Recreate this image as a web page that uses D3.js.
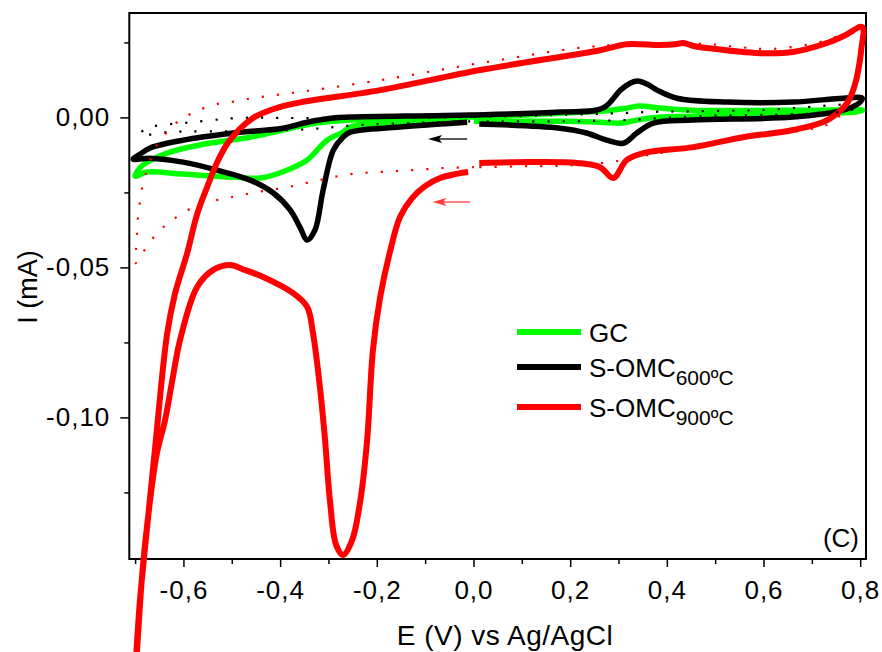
<!DOCTYPE html>
<html>
<head>
<meta charset="utf-8">
<script src="https://cdnjs.cloudflare.com/ajax/libs/d3/7.8.5/d3.min.js"></script>
<style>
body { margin: 0; background: #fff; }
text { font-family: "Liberation Sans", Arial, sans-serif; fill: #000; }
</style>
</head>
<body>
<div id="chart"></div>
<script>
// cyclic voltammograms, [E (V), I (mA)] in scan order, starting at 0 V going negative
const gcCurve = [
  [-0.015, -0.0011], [-0.152, -0.0016], [-0.228, -0.0024], [-0.255, -0.0032], [-0.27, -0.0049],
  [-0.303, -0.0076], [-0.344, -0.0142], [-0.386, -0.0176], [-0.441, -0.0202], [-0.497, -0.0199],
  [-0.601, -0.0189], [-0.675, -0.0182], [-0.7, -0.0196],
  [-0.694, -0.0176], [-0.684, -0.0159], [-0.634, -0.0119], [-0.566, -0.0092], [-0.462, -0.0066],
  [-0.394, -0.0042], [-0.324, -0.0019], [-0.255, -0.0009], [-0.007, 0.0001], [0.179, 0.0014],
  [0.268, 0.0021], [0.317, 0.0031], [0.344, 0.0038], [0.386, 0.0031], [0.455, 0.0024],
  [0.676, 0.0024], [0.805, 0.0024],
  [0.79, 0.0018], [0.676, 0.0014], [0.455, 0.0004], [0.386, 0.0001], [0.338, -0.0009],
  [0.304, -0.0019], [0.262, -0.0016], [0.179, -0.0013], [0.001, -0.0013]
];
const omc600Curve = [
  [-0.013, -0.0016], [-0.152, -0.0032], [-0.255, -0.0049], [-0.27, -0.0066], [-0.29, -0.0109],
  [-0.311, -0.0242], [-0.328, -0.0376], [-0.344, -0.0409], [-0.359, -0.0366], [-0.379, -0.0309],
  [-0.414, -0.0252], [-0.462, -0.0209], [-0.53, -0.0176], [-0.601, -0.0149], [-0.669, -0.0136],
  [-0.704, -0.0139],
  [-0.69, -0.0123], [-0.669, -0.0102], [-0.601, -0.0076], [-0.497, -0.0052], [-0.394, -0.0036],
  [-0.344, -0.0016], [-0.29, -0.0002], [-0.255, 0.0001], [-0.007, 0.0008], [0.179, 0.0018],
  [0.268, 0.0031], [0.304, 0.0091], [0.324, 0.0114], [0.34, 0.0121], [0.359, 0.0111],
  [0.38, 0.0091], [0.421, 0.0064], [0.525, 0.0051], [0.661, 0.0051], [0.765, 0.0064], [0.804, 0.0064],
  [0.8, 0.0051], [0.765, 0.0024], [0.661, 0.0001], [0.455, -0.0009], [0.372, -0.0019],
  [0.338, -0.0052], [0.31, -0.0086], [0.276, -0.0076], [0.234, -0.0052], [0.179, -0.0036],
  [0.012, -0.0022]
];
const omc900Curve = [
  [-0.011, -0.0182], [-0.038, -0.0189], [-0.069, -0.0202], [-0.1, -0.0229], [-0.127, -0.0269],
  [-0.152, -0.0332], [-0.172, -0.0443], [-0.193, -0.0599], [-0.208, -0.0776], [-0.22, -0.1076],
  [-0.234, -0.1276], [-0.251, -0.1409], [-0.27, -0.1459], [-0.284, -0.1426], [-0.297, -0.1276],
  [-0.307, -0.1076], [-0.317, -0.0909], [-0.332, -0.0719], [-0.344, -0.0632], [-0.373, -0.0586],
  [-0.435, -0.0532], [-0.472, -0.0509], [-0.504, -0.0492], [-0.539, -0.0509], [-0.572, -0.0566],
  [-0.607, -0.0742], [-0.623, -0.0876], [-0.638, -0.1009], [-0.655, -0.112], [-0.669, -0.1276],
  [-0.684, -0.1499], [-0.696, -0.1776], [-0.703, -0.195],
  [-0.698, -0.18], [-0.69, -0.161], [-0.682, -0.1476], [-0.659, -0.1108], [-0.634, -0.0724],
  [-0.618, -0.0591], [-0.592, -0.0451], [-0.572, -0.0324], [-0.551, -0.0232], [-0.528, -0.0142],
  [-0.504, -0.0076], [-0.456, -0.0002], [-0.406, 0.0032], [-0.358, 0.0050], [-0.193, 0.0091],
  [0.014, 0.0158], [0.262, 0.0224], [0.317, 0.0244], [0.386, 0.0241], [0.417, 0.0244],
  [0.434, 0.0248], [0.455, 0.0238], [0.483, 0.0231], [0.593, 0.0214], [0.661, 0.0218],
  [0.731, 0.0248], [0.769, 0.0274], [0.804, 0.0301],
  [0.802, 0.0224], [0.796, 0.0158], [0.79, 0.0114], [0.773, 0.0048], [0.732, -0.0009],
  [0.661, -0.0042], [0.558, -0.0066], [0.455, -0.0099], [0.351, -0.0119], [0.317, -0.0142],
  [0.289, -0.0202], [0.262, -0.0166], [0.214, -0.0152], [0.117, -0.0149], [0.012, -0.0152]
];
// background scans (dotted)
const omc600Blank = [
  [-0.007, -0.0013], [-0.241, -0.0026], [-0.338, -0.0039], [-0.462, -0.0046], [-0.632, -0.0049],
  [-0.69, -0.0059],
  [-0.677, -0.0036], [-0.646, -0.0026], [-0.582, -0.0016], [-0.486, -0.0002], [-0.358, -0.0002],
  [-0.007, 0.0001], [0.297, 0.0014], [0.361, 0.0018], [0.6, 0.0025], [0.8, 0.0041],
  [0.78, 0.0024], [0.469, 0.0004], [0.308, -0.0009], [0.179, -0.0013], [0.014, -0.0013]
];
const omc900Blank = [
  [0.001, -0.0166], [-0.062, -0.0169], [-0.127, -0.0176], [-0.193, -0.0182], [-0.255, -0.0189],
  [-0.319, -0.0209], [-0.383, -0.0232], [-0.448, -0.0249], [-0.51, -0.0269], [-0.572, -0.0292],
  [-0.6, -0.0319], [-0.627, -0.0346], [-0.65, -0.0379], [-0.671, -0.0419], [-0.69, -0.0466],
  [-0.7, -0.0486],
  [-0.698, -0.0436], [-0.696, -0.0386], [-0.694, -0.0332], [-0.69, -0.0282], [-0.685, -0.0232],
  [-0.677, -0.0182], [-0.667, -0.0136], [-0.653, -0.0086], [-0.634, -0.0049], [-0.611, -0.0013],
  [-0.582, 0.0014], [-0.553, 0.0034], [-0.52, 0.0048], [-0.489, 0.0054], [-0.458, 0.0064],
  [-0.425, 0.0071], [-0.394, 0.0078], [-0.363, 0.0084], [-0.193, 0.0124], [0.014, 0.0181],
  [0.26, 0.0238], [0.486, 0.0244], [0.552, 0.0234], [0.614, 0.0228], [0.717, 0.0251],
  [0.769, 0.0281], [0.8, 0.03],
  [0.79, 0.012], [0.77, 0.003], [0.738, -0.0019], [0.707, -0.0036], [0.483, -0.0086],
  [0.452, -0.0099], [0.386, -0.0119], [0.359, -0.0126], [0.3, -0.0145], [0.2, -0.016],
  [0.1, -0.0163], [0.003, -0.0166]
];

const xTicks = [-0.6, -0.4, -0.2, 0.0, 0.2, 0.4, 0.6, 0.8];
const xMinor = [-0.7, -0.5, -0.3, -0.1, 0.1, 0.3, 0.5, 0.7];
const yTicks = [0.0, -0.05, -0.10];
const yMinor = [0.025, -0.025, -0.075, -0.125];

const legendNames = ["GC", "S-OMC", "S-OMC"];
const legendSubs = ["", "600ºC", "900ºC"];
const legendColors = ["#00ff00", "#000000", "#ff0000"];

// scan direction arrows: E start, E end, I
const arrows = [
  { e0: -0.013, e1: -0.094, i: -0.0072, color: "#000000" },
  { e0: -0.007, e1: -0.085, i: -0.0282, color: "#ff4040" }
];

var width = 882;
var height = 652;
var padL = 129.3, padR = 866, padT = 13, padB = 559;

var svg = d3.select("#chart").append("svg")
  .attr("width", width)
  .attr("height", height);

var x = d3.scaleLinear().domain([-0.712, 0.812]).range([padL, padR]);
var y = d3.scaleLinear().domain([-0.1472, 0.0348]).range([padB, padT]);

// decimal comma and plain hyphen minus, as in the original
var comma = f => (v => f(v).replace(".", ",").replace("\u2212", "-"));

// axes
svg.append("g")
  .attr("transform", "translate(0," + padB + ")")
  .call(d3.axisBottom(x).tickValues(xTicks).tickSize(8).tickFormat(comma(d3.format(".1f"))))
  .call(g => g.select(".domain").remove())
  .call(g => g.selectAll("text").attr("dy", 29).style("font-size", "26px").attr("font-family", null).style("letter-spacing", "1px"))
  .call(g => g.selectAll("line").attr("stroke-width", 1.5));

svg.append("g")
  .attr("transform", "translate(0," + padB + ")")
  .call(d3.axisBottom(x).tickValues(xMinor).tickSize(5).tickFormat(""))
  .call(g => g.select(".domain").remove())
  .call(g => g.selectAll("line").attr("stroke-width", 1.5));

svg.append("g")
  .attr("transform", "translate(" + padL + ",0)")
  .call(d3.axisLeft(y).tickValues(yTicks).tickSize(9).tickPadding(10).tickFormat(comma(d3.format(".2f"))))
  .call(g => g.select(".domain").remove())
  .call(g => g.selectAll("text").style("font-size", "26px").attr("font-family", null).style("letter-spacing", "1px"))
  .call(g => g.selectAll("line").attr("stroke-width", 1.5));

svg.append("g")
  .attr("transform", "translate(" + padL + ",0)")
  .call(d3.axisLeft(y).tickValues(yMinor).tickSize(5).tickFormat(""))
  .call(g => g.select(".domain").remove())
  .call(g => g.selectAll("line").attr("stroke-width", 1.5));

// frame
svg.append("rect")
  .attr("x", padL).attr("y", padT)
  .attr("width", padR - padL).attr("height", padB - padT)
  .attr("fill", "none").attr("stroke", "#000").attr("stroke-width", 2);

var line = d3.line()
  .x(d => x(d[0]))
  .y(d => y(d[1]))
  .curve(d3.curveCatmullRom.alpha(0.5));

var curves = [
  { data: gcCurve, color: "#00ff00", w: 5.5 },
  { data: omc600Curve, color: "#000000", w: 5.5 },
  { data: omc900Curve, color: "#ff0000", w: 6 }
];
svg.selectAll("path.cv")
  .data(curves)
  .join("path")
  .attr("class", "cv")
  .attr("d", d => line(d.data))
  .attr("fill", "none")
  .attr("stroke", d => d.color)
  .attr("stroke-width", d => d.w)
  .attr("stroke-linejoin", "round");

var blanks = [
  { data: omc600Blank, color: "#000000" },
  { data: omc900Blank, color: "#ff0000" }
];
svg.selectAll("path.blank")
  .data(blanks)
  .join("path")
  .attr("class", "blank")
  .attr("d", d => line(d.data))
  .attr("fill", "none")
  .attr("stroke", d => d.color)
  .attr("stroke-width", 2.2)
  .attr("stroke-dasharray", "2.2 13");

// arrows
arrows.forEach(a => {
  var x0 = x(a.e0), x1 = x(a.e1), yy = y(a.i);
  svg.append("line")
    .attr("x1", x0).attr("x2", x1 + 10).attr("y1", yy).attr("y2", yy)
    .attr("stroke", a.color).attr("stroke-width", 1.3);
  svg.append("path")
    .attr("d", "M" + x1 + "," + yy + "L" + (x1 + 14) + "," + (yy - 4) + "L" + (x1 + 11) + "," + yy + "L" + (x1 + 14) + "," + (yy + 4) + "Z")
    .attr("fill", a.color);
});

// legend
var legend = svg.append("g");
var legendY = [332, 367, 407];
legendNames.forEach((name, i) => {
  legend.append("line")
    .attr("x1", 517).attr("x2", 581)
    .attr("y1", legendY[i]).attr("y2", legendY[i])
    .attr("stroke", legendColors[i]).attr("stroke-width", 6);
  var t = legend.append("text")
    .attr("x", 589).attr("y", legendY[i] + 10)
    .style("font-size", "26px");
  t.append("tspan").text(name);
  if (legendSubs[i]) {
    t.append("tspan").attr("dy", 8).style("font-size", "21px").text(legendSubs[i]);
  }
});

// panel label
svg.append("text")
  .attr("x", 859).attr("y", 547)
  .attr("text-anchor", "end")
  .style("font-size", "26px")
  .text("(C)");

// axis titles
svg.append("text")
  .attr("x", 505).attr("y", 645)
  .attr("text-anchor", "middle")
  .style("font-size", "28px")
  .style("letter-spacing", "0.5px")
  .text("E (V) vs Ag/AgCl");

svg.append("text")
  .attr("transform", "translate(37,287) rotate(-90)")
  .attr("text-anchor", "middle")
  .style("font-size", "27px")
  .text("I (mA)");
</script>
</body>
</html>
